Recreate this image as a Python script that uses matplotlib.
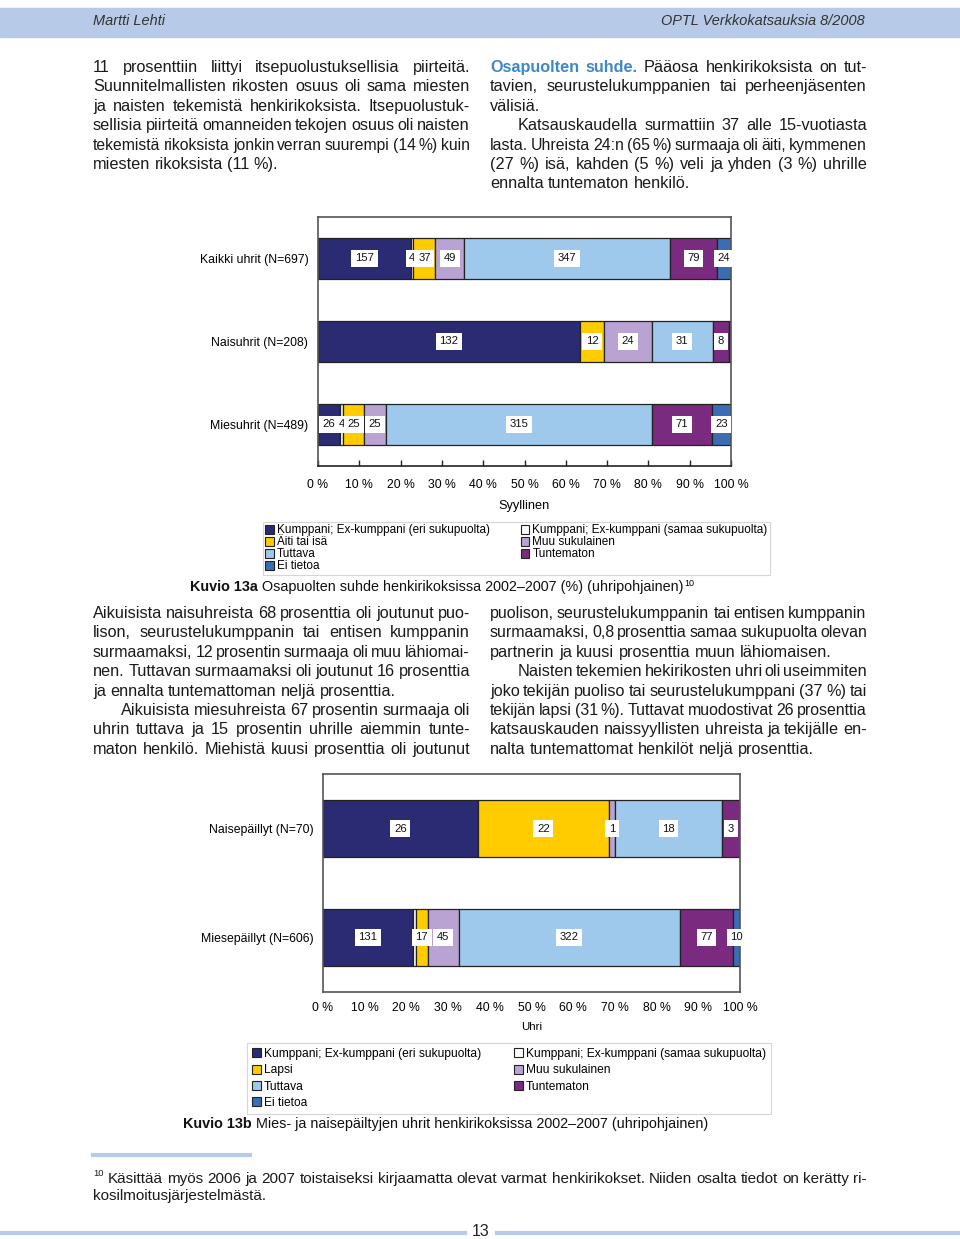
import matplotlib
matplotlib.use('Agg')
import matplotlib.pyplot as plt
from matplotlib.patches import Patch, Rectangle
from matplotlib.lines import Line2D

plt.rcParams['font.family'] = ['Liberation Sans', 'DejaVu Sans']

# ---- data ----
cats_a = ['Kumppani; Ex-kumppani (eri sukupuolta)', 'Kumppani; Ex-kumppani (samaa sukupuolta)',
          'Äiti tai isä', 'Muu sukulainen', 'Tuttava', 'Tuntematon', 'Ei tietoa']
cats_b = ['Kumppani; Ex-kumppani (eri sukupuolta)', 'Kumppani; Ex-kumppani (samaa sukupuolta)',
          'Lapsi', 'Muu sukulainen', 'Tuttava', 'Tuntematon', 'Ei tietoa']
colors = ['#2b2b73', '#ffffff', '#ffcc00', '#b9a3d3', '#9fc9ec', '#7b2b7f', '#3a6db4']

rows_a = ['Kaikki uhrit (N=697)', 'Naisuhrit (N=208)', 'Miesuhrit (N=489)']
kaikki = [157, 4, 37, 49, 347, 79, 24]
naisuhrit = [132, 0, 12, 24, 31, 8, 1]
miesuhrit = [26, 4, 25, 25, 315, 71, 23]
hidden_a = {(1, 6)}

rows_b = ['Naisepäillyt (N=70)', 'Miesepäillyt (N=606)']
naisepaillyt = [26, 0, 22, 1, 18, 3, 0]
miesepaillyt = [131, 4, 17, 45, 322, 77, 10]
hidden_b = {(1, 1)}

pct_ticks = [0, 10, 20, 30, 40, 50, 60, 70, 80, 90, 100]
legend_order = [0, 2, 4, 6, 1, 3, 5]

W, H = 960, 1239
fig = plt.figure(figsize=(W / 100, H / 100), dpi=100)
renderer = fig.canvas.get_renderer()


def fx(x):
    return x / W


def fy(y):
    return 1 - y / H


def pts(px):
    return px * 0.72


# ---- page decoration ----
fig.patches.append(Rectangle((0, fy(37)), 1, (37 - 8) / H, transform=fig.transFigure,
                             color='#b7cbe8', zorder=0))
fig.text(fx(93), fy(21), 'Martti Lehti', fontsize=pts(14.5), style='italic', color='#333333', va='center')
fig.text(fx(865), fy(21), 'OPTL Verkkokatsauksia 8/2008', fontsize=pts(14.5), style='italic',
         color='#333333', va='center', ha='right')

blue_line = '#b7cbe8'
fig.add_artist(Line2D([fx(93), fx(250)], [fy(1155), fy(1155)], color=blue_line, lw=3))
fig.add_artist(Line2D([0, fx(465)], [fy(1233), fy(1233)], color=blue_line, lw=3))
fig.add_artist(Line2D([fx(497), 1], [fy(1233), fy(1233)], color=blue_line, lw=3))
fig.text(fx(481), fy(1232), '13', fontsize=pts(16), ha='center', va='center', color='#222222')


def text_line(tokens, x0, x1, yb, size_px, justify=True):
    """tokens: list of (word, style dict). Draw words from x0, justified to x1."""
    arts = []
    for w, st in tokens:
        t = fig.text(0, 0, w, fontsize=pts(size_px), va='baseline', ha='left',
                     color=st.get('color', '#1a1a1a'), weight=st.get('weight', 'normal'))
        arts.append(t)
    widths = [a.get_window_extent(renderer).width for a in arts]
    total = sum(widths)
    n = len(arts)
    space = 0.27 * size_px
    if justify and n > 1:
        gap = (x1 - x0 - total) / (n - 1)
        if gap < 0.14 * size_px:
            # shrink to fit
            scale = (x1 - x0 - (n - 1) * 0.16 * size_px) / total
            for a in arts:
                a.set_fontsize(pts(size_px * scale))
            widths = [w * scale for w in widths]
            gap = (x1 - x0 - sum(widths)) / (n - 1)
    else:
        gap = space
    x = x0
    for a, w in zip(arts, widths):
        a.set_position((fx(x), fy(yb)))
        x += w + gap


BODY = 16.2


def para(lines, x0, x1, y0, step, size_px=BODY, indents=(), last=()):
    for i, s in enumerate(lines):
        if isinstance(s, str):
            toks = [(w, {}) for w in s.split()]
        else:
            toks = s
        xs = x0 + (28 if i in indents else 0)
        text_line(toks, xs, x1, y0 + i * step, size_px, justify=(i not in last))


LX0, LX1, RX0, RX1 = 93, 470, 490, 867
STEP = 19.4

para(['11 prosenttiin liittyi itsepuolustuksellisia piirteitä.',
      'Suunnitelmallisten rikosten osuus oli sama miesten',
      'ja naisten tekemistä henkirikoksista. Itsepuolustuk-',
      'sellisia piirteitä omanneiden tekojen osuus oli naisten',
      'tekemistä rikoksista jonkin verran suurempi (14 %) kuin',
      'miesten rikoksista (11 %).'], LX0, LX1, 72, STEP, last=(5,))

blue = {'color': '#3f88c8', 'weight': 'bold'}
first = [('Osapuolten', blue), ('suhde.', blue)] + [(w, {}) for w in 'Pääosa henkirikoksista on tut-'.split()]
para([first,
      'tavien, seurustelukumppanien tai perheenjäsenten',
      'välisiä.',
      'Katsauskaudella surmattiin 37 alle 15-vuotiasta',
      'lasta. Uhreista 24:n (65 %) surmaaja oli äiti, kymmenen',
      '(27 %) isä, kahden (5 %) veli ja yhden (3 %) uhrille',
      'ennalta tuntematon henkilö.'], RX0, RX1, 72, STEP, indents=(3,), last=(2, 6))

para(['Aikuisista naisuhreista 68 prosenttia oli joutunut puo-',
      'lison, seurustelukumppanin tai entisen kumppanin',
      'surmaamaksi, 12 prosentin surmaaja oli muu lähiomai-',
      'nen. Tuttavan surmaamaksi oli joutunut 16 prosenttia',
      'ja ennalta tuntemattoman neljä prosenttia.',
      'Aikuisista miesuhreista 67 prosentin surmaaja oli',
      'uhrin tuttava ja 15 prosentin uhrille aiemmin tunte-',
      'maton henkilö. Miehistä kuusi prosenttia oli joutunut'],
     LX0, LX1, 618, STEP, indents=(5,), last=(4,))

para(['puolison, seurustelukumppanin tai entisen kumppanin',
      'surmaamaksi, 0,8 prosenttia samaa sukupuolta olevan',
      'partnerin ja kuusi prosenttia muun lähiomaisen.',
      'Naisten tekemien hekirikosten uhri oli useimmiten',
      'joko tekijän puoliso tai seurustelukumppani (37 %) tai',
      'tekijän lapsi (31 %). Tuttavat muodostivat 26 prosenttia',
      'katsauskauden naissyyllisten uhreista ja tekijälle en-',
      'nalta tuntemattomat henkilöt neljä prosenttia.'],
     RX0, RX1, 618, STEP, indents=(3,), last=(2, 7))

# footnote
fig.text(fx(93), fy(1176), '10', fontsize=pts(9.5), va='baseline', color='#1a1a1a')
text_line([(w, {}) for w in 'Käsittää myös 2006 ja 2007 toistaiseksi kirjaamatta olevat varmat henkirikokset. Niiden osalta tiedot on kerätty ri-'.split()],
          108, RX1, 1183, 15.2)
text_line([('kosilmoitusjärjestelmästä.', {})], 93, RX1, 1200, 15.2, justify=False)


# ---- charts ----
def stacked(ax, rows, data, hidden, height):
    n = len(rows)
    for i, vals in enumerate(data):
        tot = sum(vals)
        left = 0.0
        for j, v in enumerate(vals):
            p = v / tot * 100
            if v > 0:
                ax.barh(i, p, left=left, height=height, color=colors[j],
                        edgecolor='#222222', linewidth=0.9, zorder=2)
                if (i, j) not in hidden:
                    ax.text(left + p / 2, i, str(v), ha='center', va='center', fontsize=pts(11.3),
                            color='#111111', zorder=3,
                            bbox=dict(boxstyle='square,pad=0.32', fc='white', ec='none'))
            left += p
    ax.set_xlim(0, 100)
    ax.set_ylim(n - 0.5, -0.5)
    ax.set_yticks(range(n), rows, fontsize=pts(12.3))
    ax.tick_params(axis='y', length=0, pad=7)
    ax.set_xticks(pct_ticks, [f'{t} %' for t in pct_ticks], fontsize=pts(12.3))
    for s in ax.spines.values():
        s.set_color('#555555')
        s.set_linewidth(1.2)


ax1 = fig.add_axes([fx(318), fy(466), (731 - 318) / W, (466 - 217) / H])
stacked(ax1, rows_a, [kaikki, naisuhrit, miesuhrit], hidden_a, 0.5)
ax1.tick_params(axis='x', direction='in', length=4, width=1, pad=9.5, color='#222222')
ax1.spines['bottom'].set_color('#222222')
fig.text(fx(524.5), fy(506), 'Syyllinen', fontsize=pts(12.8), ha='center', va='center')

ax2 = fig.add_axes([fx(323), fy(992), (740 - 323) / W, (992 - 774) / H])
stacked(ax2, rows_b, [naisepaillyt, miesepaillyt], hidden_b, 0.52)
ax2.tick_params(axis='x', length=0, pad=7.5)
fig.text(fx(532), fy(1027), 'Uhri', fontsize=pts(11.5), ha='center', va='center')


def legend(cats, x0, x1, ytop, size_px, spacing, bpad):
    handles = [Patch(facecolor=colors[k], edgecolor='#222222', linewidth=0.8) for k in legend_order]
    labels = [cats[k] for k in legend_order]
    leg = fig.legend(handles, labels, ncol=2, loc='upper left', mode='expand',
                     bbox_to_anchor=(fx(x0), fy(ytop) - 1e-6, (x1 - x0) / W, 1e-6),
                     bbox_transform=fig.transFigure, fontsize=pts(size_px),
                     handlelength=0.75, handleheight=0.75, handletextpad=0.25,
                     labelspacing=spacing, borderpad=bpad, borderaxespad=0,
                     columnspacing=1.0, frameon=True, fancybox=False)
    leg.get_frame().set_edgecolor('#cccccc')
    leg.get_frame().set_linewidth(0.8)
    return leg


legend(cats_a, 263, 770, 522, 11.8, 0.0, 0.2)
legend(cats_b, 247, 771, 1043, 12.0, 0.36, 0.42)


def caption(bold, rest, x, yb, sup=None):
    t = fig.text(fx(x), fy(yb), bold, fontsize=pts(14.4), weight='bold', va='baseline', color='#111111')
    w = t.get_window_extent(renderer).width
    t2 = fig.text(fx(x + w + 4), fy(yb), rest, fontsize=pts(14.4), va='baseline', color='#111111')
    if sup:
        w2 = t2.get_window_extent(renderer).width
        fig.text(fx(x + w + 4 + w2 + 1), fy(yb - 5), sup, fontsize=pts(9), va='baseline')


caption('Kuvio 13a', 'Osapuolten suhde henkirikoksissa 2002–2007 (%) (uhripohjainen)', 190, 591, sup='10')
caption('Kuvio 13b', 'Mies- ja naisepäiltyjen uhrit henkirikoksissa 2002–2007 (uhripohjainen)', 183, 1128)

fig.savefig('out.png', dpi=100)
